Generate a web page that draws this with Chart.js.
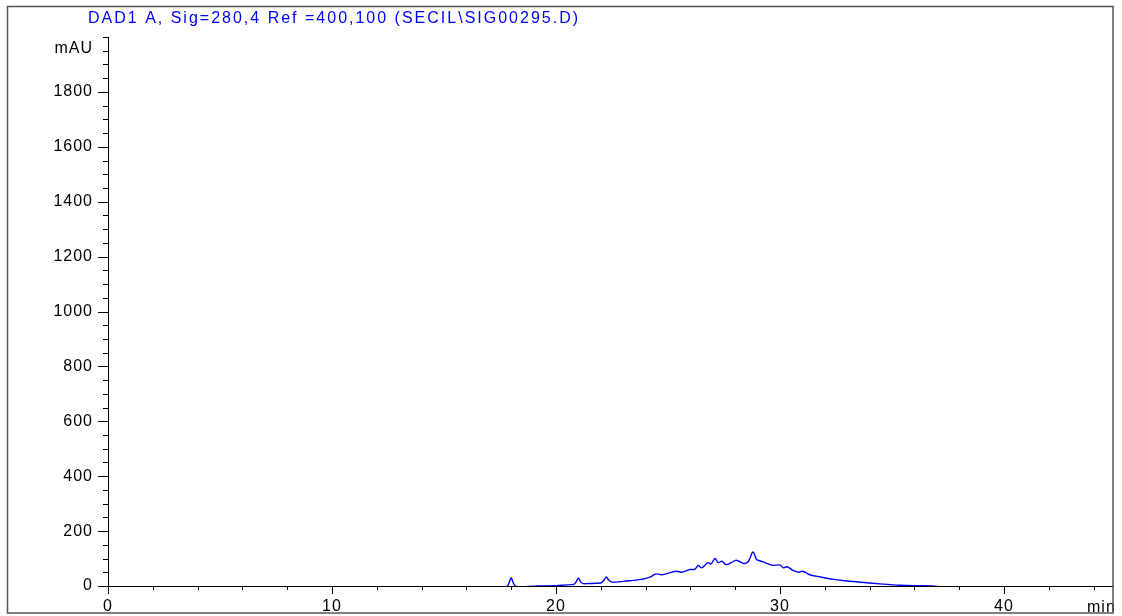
<!DOCTYPE html>
<html>
<head>
<meta charset="utf-8">
<script src="https://cdn.jsdelivr.net/npm/chart.js@4/dist/chart.umd.min.js"></script>
<style>
  body { margin: 0; background: #fff; }
</style>
</head>
<body>
<canvas id="myChart" width="1122" height="616"></canvas>
<script>
// retention time (min) and absorbance (mAU)
// (baseline sits just under 0 before 18 min and after ~37 min, so it is hidden)
var times = [0, 17.8, 17.9, 18.0, 18.1, 18.25, 19.2, 20.0, 20.5, 20.8, 20.9, 21.0, 21.1, 21.25, 21.5,
  22.0, 22.15, 22.25, 22.35, 22.5, 22.7, 23.0, 23.8, 24.2, 24.4, 24.5, 24.7, 25.0, 25.4, 25.6,
  26.0, 26.2, 26.35, 26.5, 26.8, 26.92, 27.1, 27.25, 27.4, 27.6, 27.8, 28.05, 28.4, 28.6, 28.8,
  28.95, 29.1, 29.33, 29.7, 30.0, 30.15, 30.3, 30.6, 30.85, 31.0, 31.3, 31.8, 32.4, 33.0, 33.85,
  34.6, 35.35, 36.0, 36.8, 37.3, 44.9]
var mAU = [-3, -3, 10, 30, 10, -3, 0, 1, 4, 6, 15, 29, 15, 8, 9,
  11, 22, 33, 22, 14, 14, 17, 24, 32, 42, 44, 41, 46, 54, 50,
  60, 61, 75, 66, 85, 80, 100, 85, 90, 78, 84, 94, 82, 90, 124,
  97, 92, 85, 75, 77, 66, 70, 56, 50, 54, 42, 33, 24, 18, 12,
  7, 3, 1, 0, -3, -3]

var title = "DAD1 A, Sig=280,4 Ref =400,100 (SECIL\\SIG00295.D)"
var xLabels = [0, 10, 20, 30, 40]
var yLabels = [0, 200, 400, 600, 800, 1000, 1200, 1400, 1600, 1800]

var points = []
for (var i = 0; i < times.length; i++) {
  points.push({x: times[i], y: mAU[i]})
}

var font = "Liberation Sans, Arial, sans-serif"

var extras = {
  id: "extras",
  beforeLayout: function(chart) {
    // the original print is a bit wider spaced than Arial
    chart.ctx.letterSpacing = "1px"
  },
  afterDraw: function(chart) {
    var ctx = chart.ctx
    var xs = chart.scales.x, ys = chart.scales.y
    ctx.save()
    ctx.strokeStyle = "#000"
    ctx.lineWidth = 1
    ctx.beginPath()
    // x ticks every 2 min, long at labelled ones
    for (var t = 0; t <= 44; t += 2) {
      var px = Math.round(xs.getPixelForValue(t)) + 0.5
      var len = xLabels.indexOf(t) >= 0 ? 8 : 4
      ctx.moveTo(px, xs.top)
      ctx.lineTo(px, xs.top + len)
    }
    // y ticks every 50 mAU
    for (var v = 0; v <= 2000; v += 50) {
      var py = Math.round(ys.getPixelForValue(v)) + 0.5
      var l = yLabels.indexOf(v) >= 0 ? 10 : 5
      ctx.moveTo(ys.right, py)
      ctx.lineTo(ys.right - l, py)
    }
    ctx.stroke()

    ctx.fillStyle = "#000"
    ctx.font = "16px " + font
    ctx.letterSpacing = "1px"
    ctx.textAlign = "right"
    ctx.textBaseline = "middle"
    ctx.fillText("mAU", 93, 49)
    ctx.textAlign = "left"
    ctx.textBaseline = "alphabetic"
    ctx.fillText("min", 1087, 612)

    ctx.fillStyle = "#0000ff"
    ctx.letterSpacing = "2px"
    ctx.fillText(title, 88, 23)

    // outer frame
    ctx.strokeStyle = "#555"
    ctx.lineWidth = 1.5
    ctx.strokeRect(7.5, 6.5, 1105.5, 606.5)
    ctx.restore()
  }
}

var myChart = document.getElementById("myChart").getContext("2d")
var chart = new Chart(myChart, {
  type: "scatter",
  data: {
    datasets: [
      {
        data: points,
        showLine: true,
        borderColor: "#0000ff",
        borderWidth: 1.4,
        pointRadius: 0,
        cubicInterpolationMode: "monotone",
        clip: 0
      }
    ]
  },
  options: {
    responsive: false,
    animation: false,
    devicePixelRatio: 1,
    layout: {padding: {left: 8, right: 9, top: 37, bottom: 3}},
    plugins: {legend: {display: false}, tooltip: {enabled: false}},
    scales: {
      x: {
        type: "linear",
        min: 0,
        max: 44.87,
        afterBuildTicks: function(s) {
          s.ticks = xLabels.map(function(v) { return {value: v} })
        },
        afterFit: function(s) { s.height = 27 },
        grid: {display: false, drawTicks: false},
        border: {display: true, color: "#000", width: 1},
        ticks: {
          autoSkip: false,
          maxRotation: 0,
          padding: 11,
          color: "#000",
          font: {family: font, size: 16},
          callback: function(v) { return String(v) }
        }
      },
      y: {
        min: 0,
        max: 2000,
        afterBuildTicks: function(s) {
          s.ticks = yLabels.map(function(v) { return {value: v} })
        },
        afterFit: function(s) { s.width = 100 },
        grid: {display: false, drawTicks: false},
        border: {display: true, color: "#000", width: 1},
        ticks: {
          autoSkip: false,
          padding: 15,
          color: "#000",
          font: {family: font, size: 16},
          callback: function(v) { return String(v) }
        }
      }
    }
  },
  plugins: [extras]
})
</script>
</body>
</html>
